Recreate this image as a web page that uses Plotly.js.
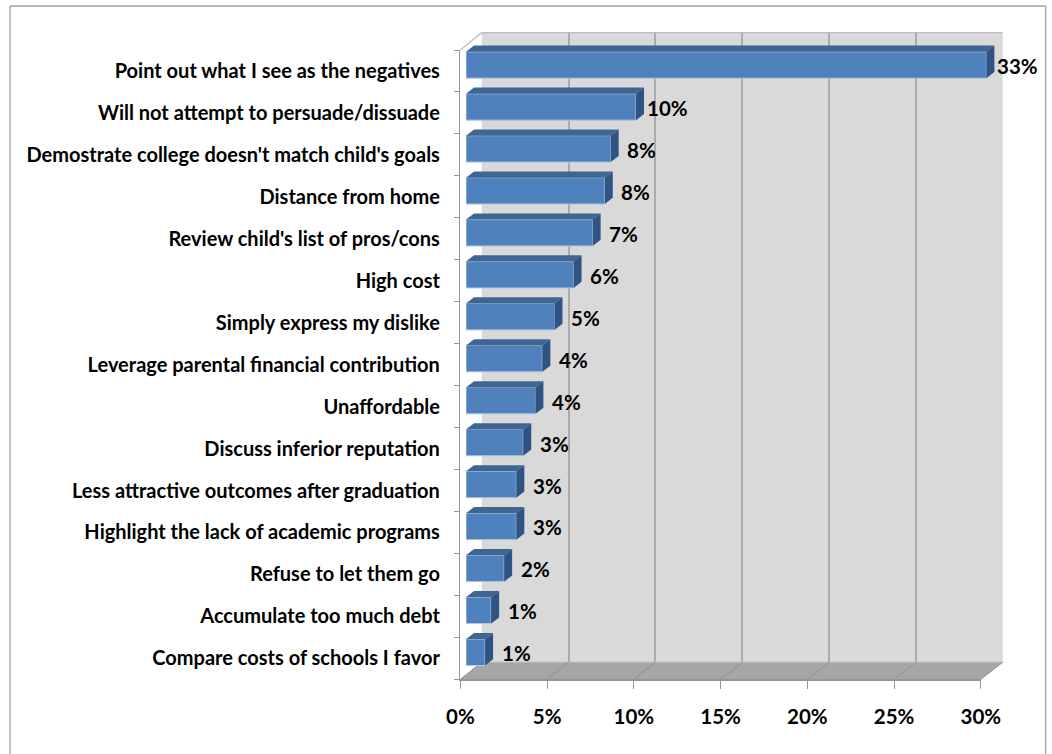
<!DOCTYPE html>
<html><head><meta charset="utf-8">
<script src="https://cdn.plot.ly/plotly-3.0.1.min.js"></script>
<style>html,body{margin:0;padding:0;background:#fff;overflow:hidden}#c{width:1052px;height:754px}</style>
</head><body><div id="c"></div>
<script>
const categories = ["Point out what I see as the negatives","Will not attempt to persuade/dissuade","Demostrate college doesn't match child's goals","Distance from home","Review child's list of pros/cons","High cost","Simply express my dislike","Leverage parental financial contribution","Unaffordable","Discuss inferior reputation","Less attractive outcomes after graduation","Highlight the lack of academic programs","Refuse to let them go","Accumulate too much debt","Compare costs of schools I favor"];
const values = [33,9.8,8.34,8.0,7.3,6.2,5.1,4.4,4.0,3.3,2.9,2.9,2.2,1.45,1.1];
const valueLabels = ["33%","10%","8%","8%","7%","6%","5%","4%","4%","3%","3%","3%","2%","1%","1%"];
const xTicks = [0,5,10,15,20,25,30];

const W=1052,H=754;
const fx0=460.4,fx1=980.8,fyT=50,fyB=679.3;      // front plane
const bx0=481.7,bx1=1002.7,byT=32.7,byB=662.3;   // back wall
const barX0=466,barYc0=65,slot=(fyB-fyT)/15;
const pxPerPct=(fx1-fx0)/30;
const barMaxPct=30;
const domX=(a,b)=>[a/W,b/W], domY=(a,b)=>[1-b/H,1-a/H];
const barRangeMax=(bx1-barX0)/pxPerPct;
const barY0=byT, barY1=fyB-5;
const yR=[(barY1-barYc0)/slot,(barY0-barYc0)/slot];
const depthX=8/pxPerPct, depthY=6.2/slot, halfH=13.2/slot;
const clipped=values.map(v=>Math.min(v,barMaxPct));
const idx=categories.map((_,i)=>i);

const FONT="Lato, Carlito, sans-serif";
const shapes=[];
const poly=(pts,fill,extra)=>Object.assign({type:'path',xref:'paper',yref:'paper',layer:'below',
  path:'M'+pts.map(p=>(p[0]/W)+','+(1-p[1]/H)).join('L')+'Z',fillcolor:fill,line:{width:0}},extra||{});
const seg=(x0,y0,x1,y1,color,w)=>({type:'line',xref:'paper',yref:'paper',layer:'below',
  x0:x0/W,x1:x1/W,y0:1-y0/H,y1:1-y1/H,line:{color:color,width:w}});
// frame
shapes.push(seg(10,6,1045.6,6,'#a3a3a3',1.3),seg(10,6,10,754,'#a3a3a3',1.3),seg(1045.6,6,1045.6,754,'#a3a3a3',1.3));
// wall + floor
shapes.push(poly([[bx0,byT],[bx1,byT],[bx1,byB],[bx0,byB]],'#d9d9d9'));
shapes.push(poly([[fx0,fyB],[bx0,byB],[bx1,byB],[fx1,fyB]],'#a6a6a6'));
shapes.push(seg(bx0,byT,bx1,byT,'#bdbdbd',1.2));
shapes.push(seg(fx0,fyT,bx0,byT,'#c4c4c4',1.5));
shapes.push(seg(bx0,byB,bx1,byB,'#b4b4b4',1));
xTicks.forEach(t=>{
  const f=fx0+t*pxPerPct, b=bx0+t*(bx1-bx0)/30;
  shapes.push(seg(f,fyB,b,byB,'#8f8f8f',1));
});
// 3D faces of bars, in bar-axis units
clipped.forEach((v,i)=>{
  const t=i-halfH,bm=i+halfH;
  shapes.push({type:'path',xref:'x2',yref:'y2',layer:'above',line:{width:0},fillcolor:'#3d6695',
    path:`M0,${t}L${depthX},${t-depthY}L${v+depthX},${t-depthY}L${v},${t}Z`});
  shapes.push({type:'path',xref:'x2',yref:'y2',layer:'above',line:{width:0},fillcolor:'#2f5382',
    path:`M${v},${t}L${v+depthX},${t-depthY}L${v+depthX},${bm-depthY}L${v},${bm}Z`});
});

const annotations=clipped.map((v,i)=>({xref:'x2',yref:'y2',x:v,y:i,xshift:31,yshift:-1,xanchor:'center',yanchor:'middle',
  showarrow:false,text:valueLabels[i],font:{family:FONT,size:20.5,color:'#000',weight:700}}));

const data=[
 {type:'scatter',x:[0],y:[0],xaxis:'x',yaxis:'y',mode:'markers',marker:{opacity:0},hoverinfo:'skip',showlegend:false},
 {type:'bar',orientation:'h',x:clipped,y:idx,xaxis:'x2',yaxis:'y2',width:2*halfH,showlegend:false,hoverinfo:'skip',
  marker:{color:'#4f81bd',line:{color:'#b5c8e0',width:1}}},
 {type:'scatter',x:[0],y:[categories[0]],xaxis:'x3',yaxis:'y3',mode:'markers',marker:{opacity:0},hoverinfo:'skip',showlegend:false}
];
const layout={
 width:W,height:H,margin:{l:0,r:0,t:0,b:0},paper_bgcolor:'#fff',plot_bgcolor:'rgba(0,0,0,0)',showlegend:false,
 shapes,annotations,
 // back wall gridlines
 xaxis:{domain:domX(bx0,bx1),range:[0,30],tickvals:xTicks,showgrid:true,gridcolor:'#ababab',gridwidth:2,showticklabels:false,ticks:'',zeroline:false,showline:false},
 yaxis:{domain:domY(byT,byB),range:[0,1],showgrid:false,showticklabels:false,ticks:'',zeroline:false,showline:false},
 // bars
 xaxis2:{domain:domX(barX0,bx1),range:[0,barRangeMax],anchor:'y2',visible:false},
 yaxis2:{domain:domY(barY0,barY1),range:yR,anchor:'x2',visible:false},
 // front axes
 xaxis3:{domain:domX(fx0,fx1),range:[0,30],anchor:'y3',tickvals:xTicks,ticktext:xTicks.map(t=>t+'%'),ticks:'outside',ticklen:8,tickwidth:1,tickcolor:'#969696',
   showline:true,linecolor:'#969696',linewidth:1.5,showgrid:false,zeroline:false,ticklabelstandoff:11,tickangle:0,
   tickfont:{family:FONT,size:20.5,color:'#000',weight:700}},
 yaxis3:{domain:domY(fyT,fyB),anchor:'x3',type:'category',categoryorder:'array',categoryarray:categories,autorange:false,range:[14.5,-0.5],
   tickmode:'array',tickvals:categories,ticktext:categories,tickson:'boundaries',ticks:'outside',ticklen:5,tickwidth:1,tickcolor:'#969696',
   showline:true,linecolor:'#969696',linewidth:1.5,showgrid:false,zeroline:false,ticklabelstandoff:15,
   tickfont:{family:FONT,size:20,color:'#000',weight:700}}
};
Plotly.newPlot('c',data,layout,{displayModeBar:false,staticPlot:true});
</script></body></html>
